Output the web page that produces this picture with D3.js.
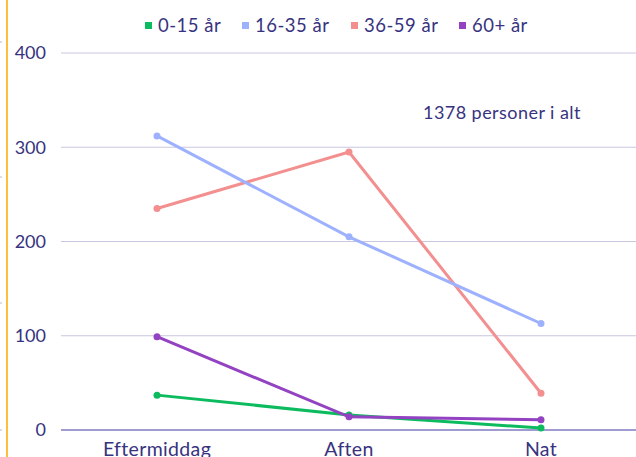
<!DOCTYPE html>
<html>
<head>
<meta charset="utf-8">
<script src="https://cdn.jsdelivr.net/npm/d3@7"></script>
<style>
  body { margin: 0; background: #fff; }
  svg text { font-family: Lato, "Open Sans", sans-serif; fill: #37337f; }
</style>
</head>
<body>
<div id="chart"></div>
<script>
// Data
var periods = ["Eftermiddag", "Aften", "Nat"];
var groups = ["0-15 år", "16-35 år", "36-59 år", "60+ år"];
var colors = ["#0dbb5f", "#9db1ff", "#f38f8f", "#9342c2"];
var age0_15 = [37, 16, 2];
var age16_35 = [312, 205, 113];
var age36_59 = [235, 295, 39];
var age60plus = [99, 14, 11];
var yTicks = [0, 100, 200, 300, 400];
var note = "1378 personer i alt";

var seriesValues = [age0_15, age16_35, age36_59, age60plus];

var svgWidth = 636;
var svgHeight = 457;

var svg = d3.select("#chart")
    .append("svg")
    .attr("width", svgWidth)
    .attr("height", svgHeight);

// yellow side bar with small marks
svg.append("line")
    .attr("x1", 7).attr("x2", 7)
    .attr("y1", 0).attr("y2", svgHeight)
    .attr("stroke", "#ffbf3c")
    .attr("stroke-width", 2);

[42, 177, 303, 430].forEach(function(y) {
    svg.append("line")
        .attr("x1", 0).attr("x2", 2)
        .attr("y1", y).attr("y2", y)
        .attr("stroke", "#b8b8c8");
});

// scales
var xScale = d3.scaleBand()
    .domain(periods)
    .range([61, 637]);

var yScale = d3.scaleLinear()
    .domain([0, 400])
    .range([430, 53]);

// gridlines
svg.append("g")
    .selectAll("line")
    .data(yTicks)
    .enter()
    .append("line")
    .attr("x1", 61)
    .attr("x2", svgWidth)
    .attr("y1", d => yScale(d))
    .attr("y2", d => yScale(d))
    .attr("stroke", d => d === 0 ? "#7e7bc0" : "#c9c7df")
    .attr("stroke-width", d => d === 0 ? 1.5 : 1.2);

// y axis labels
var yAxis = d3.axisLeft(yScale).tickValues(yTicks).tickSize(0).tickPadding(0);
var yG = svg.append("g")
    .attr("transform", "translate(46,0)")
    .call(yAxis);
yG.select(".domain").remove();
yG.selectAll("text")
    .style("font-size", "18px")
    .attr("fill", "#37337f");

// x axis labels
var xAxis = d3.axisBottom(xScale).tickSize(0).tickPadding(0);
var xG = svg.append("g")
    .attr("transform", "translate(0,442)")
    .call(xAxis);
xG.select(".domain").remove();
xG.selectAll("text")
    .style("font-size", "19.5px")
    .style("letter-spacing", "0.35px")
    .attr("fill", "#37337f");

// lines and points
var line = d3.line()
    .x((d, i) => xScale(periods[i]) + xScale.bandwidth() / 2)
    .y(d => yScale(d));

var order = [0, 3, 2, 1];
order.forEach(function(k) {
    var vals = seriesValues[k];
    svg.append("path")
        .datum(vals)
        .attr("d", line)
        .attr("fill", "none")
        .attr("stroke", colors[k])
        .attr("stroke-width", 3);

    svg.append("g")
        .selectAll("circle")
        .data(vals)
        .enter()
        .append("circle")
        .attr("cx", (d, i) => xScale(periods[i]) + xScale.bandwidth() / 2)
        .attr("cy", d => yScale(d))
        .attr("r", 3.5)
        .attr("fill", colors[k]);
});

// legend
var legendX = [145, 242, 351, 459];
var legend = svg.append("g");
groups.forEach(function(g, i) {
    legend.append("rect")
        .attr("x", legendX[i])
        .attr("y", 22)
        .attr("width", 7)
        .attr("height", 7)
        .attr("fill", colors[i]);
    legend.append("text")
        .attr("x", legendX[i] + 13)
        .attr("y", 32)
        .style("font-size", "18.5px")
        .style("letter-spacing", "0.5px")
        .text(g);
});

// annotation
svg.append("text")
    .attr("x", 423)
    .attr("y", 119)
    .style("font-size", "18px")
    .style("letter-spacing", "0.45px")
    .text(note);
</script>
</body>
</html>
